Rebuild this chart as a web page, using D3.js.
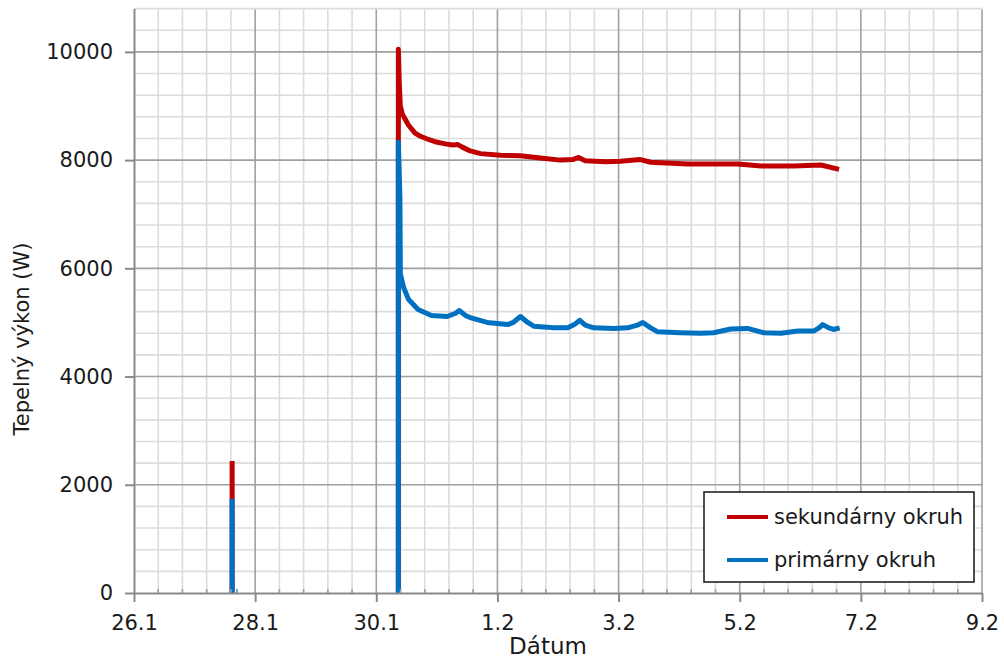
<!DOCTYPE html>
<html>
<head>
<meta charset="utf-8">
<script src="https://cdn.jsdelivr.net/npm/d3@7"></script>
<style>
  body { margin: 0; background: #fff; }
  text { font-family: "DejaVu Sans", Verdana, sans-serif; fill: #1a1a1a; }
</style>
</head>
<body>
<div id="chart"></div>
<script>
// days counted from 26.1 00:00
let xTickValues = [0, 2, 4, 6, 8, 10, 12, 14];
let xTickLabels = ["26.1", "28.1", "30.1", "1.2", "3.2", "5.2", "7.2", "9.2"];
let yTickValues = [0, 2000, 4000, 6000, 8000, 10000];

let seriesNames = ["sekundárny okruh", "primárny okruh"];
let seriesColors = ["#c00000", "#0070c0"];

// sekundárny okruh (null = gap)
let sekDays = [1.62, 1.62, null,
  4.364, 4.364, 4.38, 4.397, 4.43, 4.48, 4.53, 4.58, 4.64, 4.73, 4.84, 4.97,
  5.14, 5.26, 5.34, 5.42, 5.55, 5.72, 6.05, 6.38, 6.71,
  7.04, 7.24, 7.34, 7.45, 7.79, 8.03, 8.36, 8.53,
  9.14, 9.97, 10.35, 10.89, 11.34, 11.64];
let sekVals = [0, 2440, null,
  0, 10050, 9400, 9000, 8850, 8750, 8650, 8580, 8500, 8440, 8390, 8340,
  8300, 8280, 8290, 8240, 8170, 8120, 8090, 8080, 8040,
  8000, 8010, 8050, 7990, 7970, 7980, 8010, 7960,
  7930, 7930, 7890, 7890, 7910, 7830];

// primárny okruh (null = gap)
let primDays = [1.62, 1.62, null, 1.69, 1.71, null,
  4.364, 4.364, 4.39, 4.397, 4.45, 4.53, 4.69, 4.91,
  5.17, 5.31, 5.37, 5.47, 5.55, 5.83,
  6.17, 6.26, 6.38, 6.50, 6.60, 6.93,
  7.16, 7.27, 7.36, 7.45, 7.59, 7.92,
  8.15, 8.31, 8.40, 8.53, 8.64,
  9.02, 9.36, 9.57, 9.85,
  10.13, 10.40, 10.68, 10.96,
  11.22, 11.31, 11.37, 11.47, 11.55, 11.65];
let primVals = [0, 1740, null, 30, 30, null,
  0, 8330, 7330, 5900, 5650, 5430, 5240, 5130,
  5110, 5170, 5220, 5130, 5090, 5000,
  4960, 5000, 5110, 5000, 4930, 4900,
  4900, 4960, 5040, 4950, 4900, 4890,
  4900, 4950, 5000, 4900, 4830,
  4810, 4800, 4810, 4880,
  4890, 4810, 4800, 4840,
  4840, 4900, 4960, 4900, 4870, 4900];

let W = 1004, H = 661;
let plot = { left: 134, right: 982, top: 8.6, bottom: 593 };

let svg = d3.select("#chart").append("svg")
  .attr("width", W)
  .attr("height", H)
  .style("display", "block");

svg.append("rect").attr("width", W).attr("height", H).attr("fill", "#fff");

let x = d3.scaleLinear().domain([0, 14]).range([plot.left, plot.right]);
let y = d3.scaleLinear().domain([0, 10800]).range([plot.bottom, plot.top]);

// grid
let minorX = d3.range(0, 14.001, 0.4).filter(d => Math.abs(d / 2 - Math.round(d / 2)) > 0.01);
let minorY = d3.range(400, 10801, 400).filter(d => d % 2000 !== 0);

let grid = svg.append("g");
grid.selectAll(".mx").data(minorX).enter().append("line")
  .attr("x1", d => x(d)).attr("x2", d => x(d))
  .attr("y1", plot.bottom).attr("y2", y(10800) + 1)
  .attr("stroke", "#dcdcdc").attr("stroke-width", 1.6);
grid.selectAll(".my").data(minorY).enter().append("line")
  .attr("x1", plot.left).attr("x2", plot.right)
  .attr("y1", d => y(d)).attr("y2", d => y(d))
  .attr("stroke", "#dcdcdc").attr("stroke-width", 1.6);
grid.selectAll(".Mx").data(xTickValues.slice(1)).enter().append("line")
  .attr("x1", d => x(d)).attr("x2", d => x(d))
  .attr("y1", plot.bottom).attr("y2", y(10800) + 1)
  .attr("stroke", "#a0a0a0").attr("stroke-width", 1.6);
grid.selectAll(".My").data(yTickValues.slice(1)).enter().append("line")
  .attr("x1", plot.left).attr("x2", plot.right)
  .attr("y1", d => y(d)).attr("y2", d => y(d))
  .attr("stroke", "#a0a0a0").attr("stroke-width", 1.6);

// series
let line = d3.line()
  .defined(d => d[1] != null)
  .x(d => x(d[0]))
  .y(d => y(d[1]));

let sek = sekDays.map((d, i) => [d, sekVals[i]]);
let prim = primDays.map((d, i) => [d, primVals[i]]);

[sek, prim].forEach((data, i) => {
  svg.append("path")
    .datum(data)
    .attr("d", line)
    .attr("fill", "none")
    .attr("stroke", seriesColors[i])
    .attr("stroke-width", 5)
    .attr("stroke-linejoin", "round")
    .attr("stroke-linecap", "butt");
});

// legend
let lg = svg.append("g");
lg.append("rect")
  .attr("x", 704).attr("y", 492)
  .attr("width", 270).attr("height", 90)
  .attr("fill", "#fff").attr("stroke", "#222").attr("stroke-width", 1.6);
seriesNames.forEach((name, i) => {
  lg.append("line")
    .attr("x1", 727).attr("x2", 768)
    .attr("y1", 517 + i * 43).attr("y2", 517 + i * 43)
    .attr("stroke", seriesColors[i]).attr("stroke-width", 4);
  lg.append("text")
    .attr("x", 774).attr("y", 524 + i * 43)
    .style("font-size", "21px")
    .text(name);
});

// minor x ticks on the axis
svg.append("g").selectAll("line").data(minorX).enter().append("line")
  .attr("x1", d => x(d)).attr("x2", d => x(d))
  .attr("y1", plot.bottom).attr("y2", plot.bottom - 4)
  .attr("stroke", "#a0a0a0").attr("stroke-width", 1.6);

// axes
let xAxis = svg.append("g")
  .attr("transform", "translate(0," + plot.bottom + ")")
  .call(d3.axisBottom(x)
    .tickValues(xTickValues)
    .tickFormat((d, i) => xTickLabels[i])
    .tickSize(9)
    .tickSizeOuter(0)
    .tickPadding(13));

let yAxis = svg.append("g")
  .attr("transform", "translate(" + plot.left + ",0)")
  .call(d3.axisLeft(y)
    .tickValues(yTickValues)
    .tickFormat(d3.format("d"))
    .tickSize(9)
    .tickSizeOuter(0)
    .tickPadding(12));

[xAxis, yAxis].forEach(g => {
  g.select(".domain").attr("stroke", "#8a8a8a").attr("stroke-width", 2);
  g.selectAll(".tick line").attr("stroke", "#8a8a8a").attr("stroke-width", 2);
  g.selectAll("text")
    .style("font-size", "21px")
    .style("font-family", "'DejaVu Sans', Verdana, sans-serif")
    .attr("fill", "#1a1a1a");
});

// titles
svg.append("text")
  .attr("x", 548).attr("y", 654)
  .attr("text-anchor", "middle")
  .style("font-size", "23px")
  .text("Dátum");

svg.append("text")
  .attr("transform", "translate(29,339) rotate(-90)")
  .attr("text-anchor", "middle")
  .style("font-size", "21px")
  .text("Tepelný výkon (W)");
</script>
</body>
</html>
